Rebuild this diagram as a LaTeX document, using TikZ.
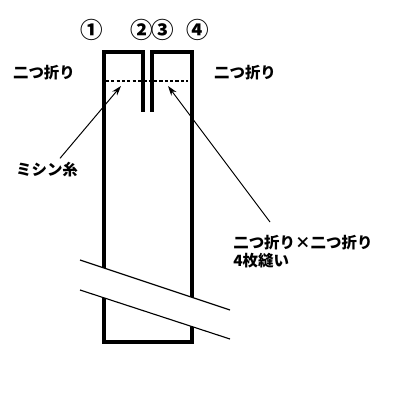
\documentclass[tikz,border=0pt]{standalone}
\usepackage{fontspec}
\newfontfamily\jpfont{Noto Sans CJK JP}
\usepackage{tikz}
\usetikzlibrary{arrows.meta}
\tikzstyle{label}=[inner sep = 0pt,font=\jpfont\bfseries\fontsize{11}{13}\selectfont]
\tikzstyle{numlabel}=[inner sep = 0pt,font=\jpfont\bfseries\fontsize{16}{16}\selectfont]
\tikzstyle{paper}=[line width = 2.2pt,line join = miter]
\tikzstyle{cut}=[line width = 0.8pt]
\tikzstyle{pointer}=[line width = 0.7pt,-{Stealth[length=7pt,width=4.5pt]}]

\begin{document}
\begin{tikzpicture}[x=0.025cm,y=-0.025cm]
        \useasboundingbox (0,0) rectangle (400,400);
        \foreach \n/\c/\x in {1/①/92,2/②/142,3/③/163,4/④/198}{
          \node[numlabel] (num\n) at (\x,30) {\c};
        }
        \draw[paper] (143,112) -- (143,52) -- (104,52) -- (104,342) -- (192,342)
          -- (192,52) -- (152,52) -- (152,112);
        \fill[white] (80,260) -- (230,310) -- (230,339) -- (80,290) -- cycle;
        \draw[cut] (80,260) -- (230,310) (80,290) -- (230,339);
        \draw[line width = 0.8pt,dash pattern = on 2.2pt off 1.6pt] (106,81) -- (188,81);
        \coordinate (stitchL) at (121,86);
        \coordinate (stitchR) at (168,86);
        \node[label] (foldL) at (44,73) {二つ折り};
        \node[label] (foldR) at (245,73) {二つ折り};
        \node[label] (mishin) at (47,170) {ミシン糸};
        \node[label,anchor=north west,align=left] (four) at (233,235) {二つ折り×二つ折り\\4枚縫い};
        \draw[pointer] ([shift={(13,-4)}]mishin.north) -- (stitchL);
        \draw[pointer] ([shift={(37,-13)}]four.north west) -- (stitchR);
      \end{tikzpicture}
\end{document}
